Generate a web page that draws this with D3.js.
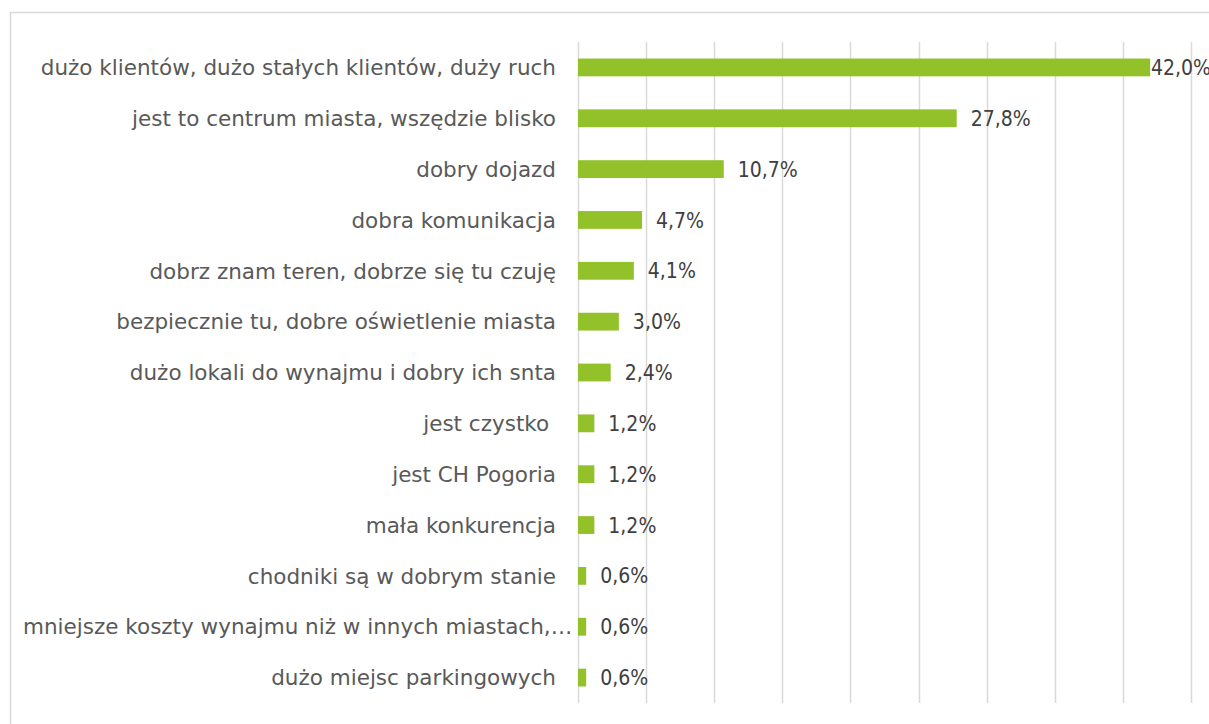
<!DOCTYPE html>
<html>
<head>
<meta charset="utf-8">
<script src="https://cdn.jsdelivr.net/npm/d3@7"></script>
<style>
  html, body { margin: 0; padding: 0; background: #fff; }
  svg { display: block; }
  text { white-space: pre; }
</style>
</head>
<body>
<svg id="chart" width="1209" height="724"></svg>
<script>
const categories = [
  "dużo klientów, dużo stałych klientów, duży ruch",
  "jest to centrum miasta, wszędzie blisko",
  "dobry dojazd",
  "dobra komunikacja",
  "dobrz znam teren, dobrze się tu czuję",
  "bezpiecznie tu, dobre oświetlenie miasta",
  "dużo lokali do wynajmu i dobry ich snta",
  "jest czystko ",
  "jest CH Pogoria",
  "mała konkurencja",
  "chodniki są w dobrym stanie",
  "mniejsze koszty wynajmu niż w innych miastach,…",
  "dużo miejsc parkingowych"
];
const values = [42.0, 27.8, 10.7, 4.7, 4.1, 3.0, 2.4, 1.2, 1.2, 1.2, 0.6, 0.6, 0.6];
const valueLabels = ["42,0%", "27,8%", "10,7%", "4,7%", "4,1%", "3,0%", "2,4%", "1,2%", "1,2%", "1,2%", "0,6%", "0,6%", "0,6%"];
const gridTicks = [0, 5, 10, 15, 20, 25, 30, 35, 40, 45];

const svg = d3.select("#chart");
const chartRight = 1211;

// chart area border
svg.append("rect")
  .attr("x", 10.5).attr("y", 12.5)
  .attr("width", 1215).attr("height", 730)
  .attr("fill", "#fff").attr("stroke", "#d9d9d9").attr("stroke-width", 1.5);

const x = d3.scaleLinear().domain([0, 45]).range([578, 1191]);
const y = d3.scaleBand().domain(categories).range([42, 703])
  .paddingInner(0.65).paddingOuter(0.325);

// gridlines
svg.append("g").selectAll("line").data(gridTicks).join("line")
  .attr("x1", d => Math.round(x(d)) + 0.5).attr("x2", d => Math.round(x(d)) + 0.5)
  .attr("y1", y.range()[0]).attr("y2", y.range()[1])
  .attr("stroke", "#d9d9d9").attr("stroke-width", 1.5);

// bars
svg.append("g").selectAll("rect").data(categories).join("rect")
  .attr("x", x(0))
  .attr("y", d => y(d))
  .attr("width", (d, i) => x(values[i]) - x(0))
  .attr("height", y.bandwidth())
  .attr("fill", "#92c12a");

// category labels
const cl = svg.append("g").selectAll("text").data(categories).join("text")
  .attr("y", d => y(d) + y.bandwidth() / 2)
  .attr("dy", "0.36em")
  .attr("text-anchor", "end")
  .attr("font-family", "'DejaVu Sans', sans-serif")
  .attr("font-size", 21.5)
  .attr("fill", "#595959")
  .text(d => d);
cl.each(function() {
  const w = this.getComputedTextLength();
  d3.select(this).attr("x", Math.max(556, 23 + w));
});

// value labels
const vl = svg.append("g").selectAll("text").data(categories).join("text")
  .attr("y", d => y(d) + y.bandwidth() / 2)
  .attr("dy", "0.36em")
  .attr("font-family", "'DejaVu Sans Condensed', 'DejaVu Sans', sans-serif")
  .attr("font-size", 21)
  .attr("fill", "#404040")
  .text((d, i) => valueLabels[i]);
vl.each(function(d, i) {
  const w = this.getComputedTextLength();
  d3.select(this).attr("x", Math.min(x(values[i]) + 14, chartRight - w));
});
</script>
</body>
</html>
